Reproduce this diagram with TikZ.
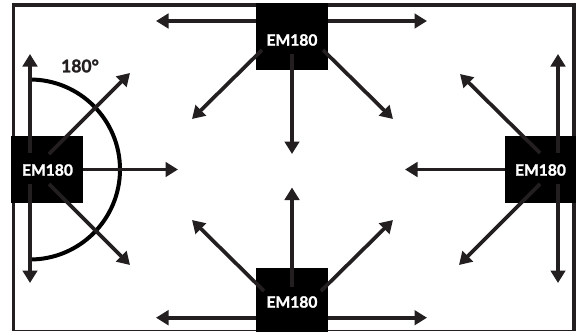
\documentclass[tikz,border=0pt]{standalone}
\usepackage{fontspec}
\setmainfont{Lato}[BoldFeatures={FakeBold=1.6}]
\usetikzlibrary{arrows.meta}
\definecolor{ink}{HTML}{231F20}
\tikzset{x=1pt,y=-1pt,
  ray/.style={draw=ink,fill=ink,line width=3.7pt,-{Triangle[length=12.5pt,width=14.5pt]}},
  src/.style={fill=black,inner sep=0pt,minimum width=72pt,minimum height=67pt},
  lbl/.style={inner sep=0pt,text=white,font=\bfseries\fontsize{15.6}{16}\selectfont},
  sweep/.style={draw=black,line width=4pt}}
\begin{document}
\begin{tikzpicture}
\useasboundingbox (0,0) rectangle (576,332);
\fill[white] (0,0) rectangle (576,332);
% frame
\draw[draw=ink,line width=3.8pt] (13.5,330.5) -- (13.5,5) -- (574,5) -- (574,330.5);
\draw[draw=ink,line width=1.5pt] (13.5,330.5) -- (574,330.5);
% sources
\node[src,anchor=north west] (L) at (11,135.5) {};
\node[src,anchor=north west] (T) at (255.7,3) {};
\node[src,anchor=north west] (R) at (505,135.5) {};
\node[src,anchor=north west] (B) at (256,267.7) {};
% connector free ends
\coordinate (Ta) at (156,21);
\coordinate (Tb) at (427,21);
\coordinate (Ba) at (156,317.7);
\coordinate (Bb) at (427,317.7);
% sweep
\draw[sweep,line cap=round] (30,79.5) arc[start angle=-90,end angle=90,radius=90,x=1pt,y=-1pt];
% left
\draw[ray] (30,153) -- (30,54);
\draw[ray] (49,154) -- (130,73);
\draw[ray] (L.east |- 0,169.5) -- (178,169.5);
\draw[ray] (30,184) -- (30,283);
\draw[ray] (49,184) -- (130,265);
% top
\draw[ray] (T.west |- Ta) -- (Ta);
\draw[ray] (T.east |- Tb) -- (Tb);
\draw[ray] (262,50) -- (192,119);
\draw[ray] (323,50) -- (393,119);
\draw[ray] (292,54) -- (292,154);
% right
\draw[ray] (R.west |- 0,169.5) -- (405,169.5);
\draw[ray] (540,153) -- (460,74);
\draw[ray] (540,184) -- (459,265);
\draw[ray] (558,153) -- (558,54);
\draw[ray] (558,184) -- (558,283);
% bottom
\draw[ray] (B.west |- Ba) -- (Ba);
\draw[ray] (B.east |- Bb) -- (Bb);
\draw[ray] (264,291) -- (192,220);
\draw[ray] (321,291) -- (393,220);
\draw[ray] (292,286.5) -- (292,187.5);
% labels
\node[lbl] (Lt) at (47.5,170) {EM180};
\node[lbl] (Tt) at (292,40) {EM180};
\node[lbl] (Rt) at (540.5,170) {EM180};
\node[lbl] (Bt) at (292,302) {EM180};
\node[lbl,text=ink,font=\bfseries\fontsize{17.5}{18}\selectfont] (ang) at (80,66) {180°};
\end{tikzpicture}
\end{document}
